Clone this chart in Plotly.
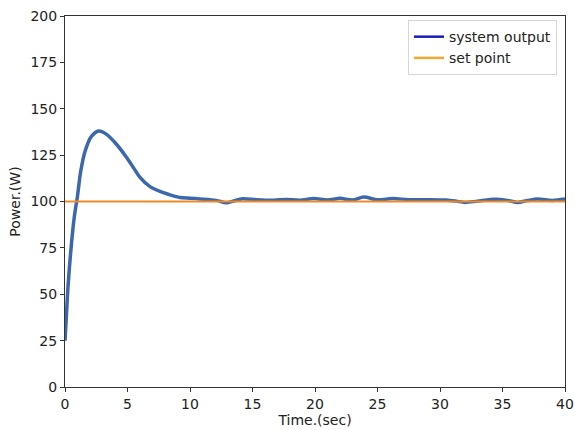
import plotly.graph_objects as go

time_s = [0, 0.1, 0.25, 0.5, 0.75, 1.0, 1.25, 1.6, 2.1, 2.7, 3.3, 4.1, 4.9, 5.5,
          6.0, 6.8, 7.6, 8.4, 9.2, 10.0, 10.8, 12.1, 12.9, 13.5, 14.2, 15.3, 16.7,
          17.7, 18.8, 19.9, 21.0, 22.0, 23.0, 23.9, 25.0, 26.2, 27.5, 29.0, 30.5,
          31.3, 32.0, 33.0, 34.4, 35.4, 36.2, 37.0, 37.8, 39.0, 40.0]
power_w = [25, 37, 55, 76, 92, 103, 116, 127, 135, 138, 136.3, 131, 124, 118,
           113, 108, 105.4, 103.6, 102.2, 101.8, 101.4, 100.6, 99.3, 100.3, 101.5, 101, 100.7,
           101.1, 100.7, 101.6, 100.8, 101.7, 100.8, 102.4, 100.9, 101.6, 101, 101, 100.8,
           100.2, 99.5, 100.2, 101.2, 100.6, 99.5, 100.5, 101.3, 100.6, 101.3]
set_point = [100] * len(time_s)

x_ticks = [0, 5, 10, 15, 20, 25, 30, 35, 40]
y_ticks = [0, 25, 50, 75, 100, 125, 150, 175, 200]

fig = go.Figure()

fig.add_trace(go.Scatter(
    x=time_s, y=power_w, mode='lines',
    line=dict(color='#3b67ad', width=3.5, shape='spline', smoothing=0.8),
    name='system output', legendgroup='out', showlegend=False,
))
fig.add_trace(go.Scatter(
    x=time_s, y=set_point, mode='lines',
    line=dict(color='#f28a24', width=2),
    name='set point', legendgroup='sp', showlegend=False,
))
# legend entries use their own colours, as in the picture
fig.add_trace(go.Scatter(
    x=[None], y=[None], mode='lines',
    line=dict(color='#1a1ab8', width=2.5),
    name='system output', legendgroup='out',
))
fig.add_trace(go.Scatter(
    x=[None], y=[None], mode='lines',
    line=dict(color='#f0a830', width=2.5),
    name='set point', legendgroup='sp',
))

axis_common = dict(
    showgrid=False, zeroline=False, automargin=False,
    showline=True, linecolor='#333333', linewidth=1, mirror=True,
    ticks='outside', ticklen=4, tickcolor='#333333',
    tickfont=dict(size=14, color='#222222'),
)

fig.update_layout(
    width=574, height=430,
    margin=dict(l=65, r=9, t=16, b=43),
    paper_bgcolor='white', plot_bgcolor='white',
    font=dict(family='DejaVu Sans', size=14, color='#222222'),
    xaxis=dict(range=[0, 40], tickvals=x_ticks,
               title=dict(text='Time.(sec)', font=dict(size=14), standoff=2),
               **axis_common),
    yaxis=dict(range=[0, 200], tickvals=y_ticks,
               title=dict(text='Power.(W)', font=dict(size=14), standoff=6),
               **axis_common),
    legend=dict(x=0.984, y=0.989, xanchor='right', yanchor='top',
                bgcolor='rgba(255,255,255,0.9)', bordercolor='#d6d6d6', borderwidth=1,
                font=dict(size=14), tracegroupgap=0),
)

fig.write_html("out.html", config={'displayModeBar': False},
               post_script="document.body.style.margin='0';")
